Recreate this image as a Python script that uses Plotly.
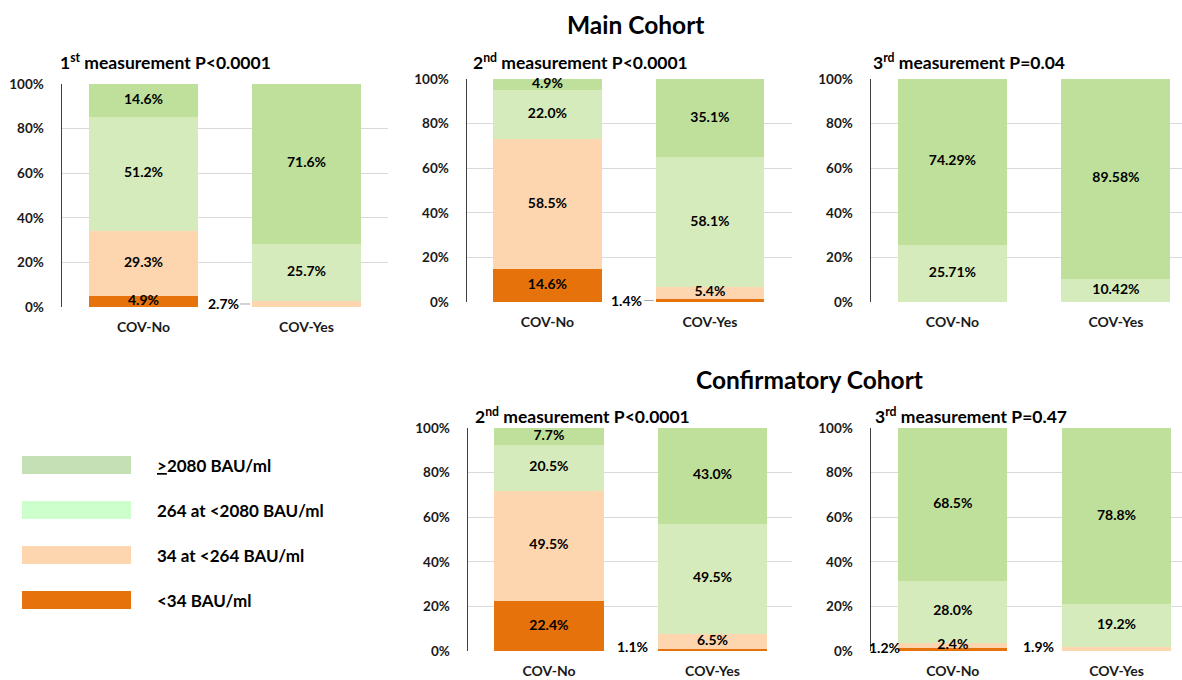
import plotly.graph_objects as go

W, H = 1182, 680

categories = ["COV-No", "COV-Yes"]
levels = ["<34 BAU/ml", "34 at <264 BAU/ml", "264 at <2080 BAU/ml", ">=2080 BAU/ml"]
legend_labels = ["<u>></u>2080 BAU/ml", "264 at <2080 BAU/ml", "34 at <264 BAU/ml", "<34 BAU/ml"]
y_ticks = [0, 20, 40, 60, 80, 100]
y_ticktext = ["0%", "20%", "40%", "60%", "80%", "100%"]

# values per level order: <34, 34-264, 264-2080, >=2080
main1_no = [4.9, 29.3, 51.2, 14.6]
main1_yes = [0.0, 2.7, 25.7, 71.6]
main2_no = [14.6, 58.5, 22.0, 4.9]
main2_yes = [1.4, 5.4, 58.1, 35.1]
main3_no = [0.0, 0.0, 25.71, 74.29]
main3_yes = [0.0, 0.0, 10.42, 89.58]
conf2_no = [22.4, 49.5, 20.5, 7.7]
conf2_yes = [1.1, 6.5, 49.5, 43.0]
conf3_no = [1.2, 2.4, 28.0, 68.5]
conf3_yes = [0.0, 1.9, 19.2, 78.8]

bar_colors = ["#E5720B", "#FDD5AE", "#D6EBBB", "#BFE09A"]
legend_colors = ["#C5E0B4", "#CCFFCC", "#FDD5AE", "#E5720B"]

FONT = "Lato"
BW = 0.667
LBL = 14

panels = [
    dict(title="1<sup>st</sup> measurement P<0.0001", no=main1_no, yes=main1_yes, dec=1,
         xd=(62, 388), yd=(307, 84), xr=(-0.5, 1.5), tpos=(58, 61),
         outside={(1, 1): ("leader", -29, 0)}),
    dict(title="2<sup>nd</sup> measurement P<0.0001", no=main2_no, yes=main2_yes, dec=1,
         xd=(467, 792), yd=(302, 79), xr=(-0.495, 1.505), tpos=(471, 61),
         outside={(1, 0): ("leader", -29, 0)}),
    dict(title="3<sup>rd</sup> measurement P=0.04", no=main3_no, yes=main3_yes, dec=2,
         xd=(871, 1182), yd=(302, 79), xr=(-0.498, 1.404), tpos=(871, 61),
         outside={}),
    dict(title="2<sup>nd</sup> measurement P<0.0001", no=conf2_no, yes=conf2_yes, dec=1,
         xd=(468, 792), yd=(651, 428), xr=(-0.495, 1.486), tpos=(473, 415),
         outside={(1, 0): ("plain", -8, 3)}),
    dict(title="3<sup>rd</sup> measurement P=0.47", no=conf3_no, yes=conf3_yes, dec=1,
         xd=(871, 1182), yd=(651, 428), xr=(-0.5, 1.40), tpos=(873, 415),
         outside={(0, 0): ("plain", 4, 2), (1, 1): ("plain", -6, 2)}),
]


def px(x):
    return x / W


def py(y):
    return 1 - y / H


fig = go.Figure()
annotations = []
shapes = []
layout_axes = {}

for k, p in enumerate(panels):
    idx = "" if k == 0 else str(k + 1)
    xa, ya = "x" + idx, "y" + idx
    for i, lev in enumerate(levels):
        fig.add_trace(go.Bar(
            x=[0, 1], y=[p["no"][i], p["yes"][i]], width=BW,
            marker=dict(color=bar_colors[i], line=dict(width=0)),
            name=lev, showlegend=False, xaxis=xa, yaxis=ya, hoverinfo="skip"))
    tx, ty, tt = [], [], []
    for c, vals in enumerate([p["no"], p["yes"]]):
        cum = 0.0
        for i, v in enumerate(vals):
            mid = cum + v / 2
            cum += v
            if v <= 0:
                continue
            label = f"{v:.{p['dec']}f}%"
            if (c, i) in p["outside"]:
                kind, dx, dy = p["outside"][(c, i)]
                if kind == "leader":
                    annotations.append(dict(
                        x=c - BW / 2, y=mid, xref=xa, yref=ya, text=label,
                        showarrow=True, arrowhead=0, arrowwidth=1, arrowcolor="#A6A6A6",
                        ax=dx, ay=dy, standoff=2,
                        font=dict(family=FONT, size=LBL, color="#000000", weight="bold")))
                else:
                    annotations.append(dict(
                        x=c - BW / 2, y=mid, xref=xa, yref=ya, text=label,
                        showarrow=False, xanchor="right", yanchor="middle",
                        xshift=dx, yshift=dy,
                        font=dict(family=FONT, size=LBL, color="#000000", weight="bold")))
            else:
                tx.append(c)
                ty.append(mid)
                tt.append(label)
    fig.add_trace(go.Scatter(
        x=tx, y=ty, text=tt, mode="text", textposition="middle center",
        textfont=dict(family=FONT, size=LBL, color="#000000", weight="bold"),
        showlegend=False, xaxis=xa, yaxis=ya, hoverinfo="skip", cliponaxis=False))

    layout_axes["xaxis" + idx] = dict(
        domain=[px(p["xd"][0]), px(p["xd"][1])], range=list(p["xr"]),
        anchor=ya, tickvals=[0, 1], ticktext=categories, showgrid=False,
        zeroline=False, showline=False, ticks="", ticklabelstandoff=10,
        automargin=False,
        tickfont=dict(family=FONT, size=14, color="#1a1a1a", weight="bold"),
        fixedrange=True)
    layout_axes["yaxis" + idx] = dict(
        domain=[py(p["yd"][0]), py(p["yd"][1])], range=[0, 100],
        anchor=xa, tickvals=y_ticks, ticktext=y_ticktext,
        showgrid=True, gridcolor="#D9D9D9", gridwidth=1, zeroline=False,
        showline=True, linecolor="#404040", linewidth=1.5, ticks="",
        ticklabelstandoff=14, automargin=False,
        tickfont=dict(family=FONT, size=13.5, color="#1a1a1a", weight="bold"),
        fixedrange=True)
    annotations.append(dict(
        x=px(p["tpos"][0]), y=py(p["tpos"][1]), xref="paper", yref="paper",
        text=p["title"], showarrow=False, xanchor="left", yanchor="middle",
        font=dict(family=FONT, size=17.5, color="#000000", weight="bold")))

annotations.append(dict(x=px(635.5), y=py(25), xref="paper", yref="paper",
                        text="Main Cohort", showarrow=False,
                        xanchor="center", yanchor="middle",
                        font=dict(family=FONT, size=24.5, color="#000000", weight="bold")))
annotations.append(dict(x=px(809.5), y=py(379), xref="paper", yref="paper",
                        text="Confirmatory Cohort", showarrow=False,
                        xanchor="center", yanchor="middle",
                        font=dict(family=FONT, size=24.5, color="#000000", weight="bold")))

leg_y = [465, 510, 555, 600]
for j, lab in enumerate(legend_labels):
    shapes.append(dict(type="rect", xref="paper", yref="paper",
                       x0=px(22), x1=px(131), y0=py(leg_y[j] - 9), y1=py(leg_y[j] + 9),
                       fillcolor=legend_colors[j], line=dict(width=0)))
    annotations.append(dict(x=px(155), y=py(leg_y[j]), xref="paper", yref="paper",
                            text=lab, showarrow=False, xanchor="left", yanchor="middle",
                            font=dict(family=FONT, size=17, color="#000000", weight="bold")))

fig.update_layout(
    template="none",
    width=W, height=H, margin=dict(l=0, r=0, t=0, b=0, autoexpand=False),
    paper_bgcolor="white", plot_bgcolor="white",
    barmode="stack", bargap=0, showlegend=False, hovermode=False,
    annotations=annotations, shapes=shapes, **layout_axes)

fig.write_html("out.html", config={"displayModeBar": False, "staticPlot": True},
               post_script="document.body.style.margin='0';document.body.style.padding='0';")
